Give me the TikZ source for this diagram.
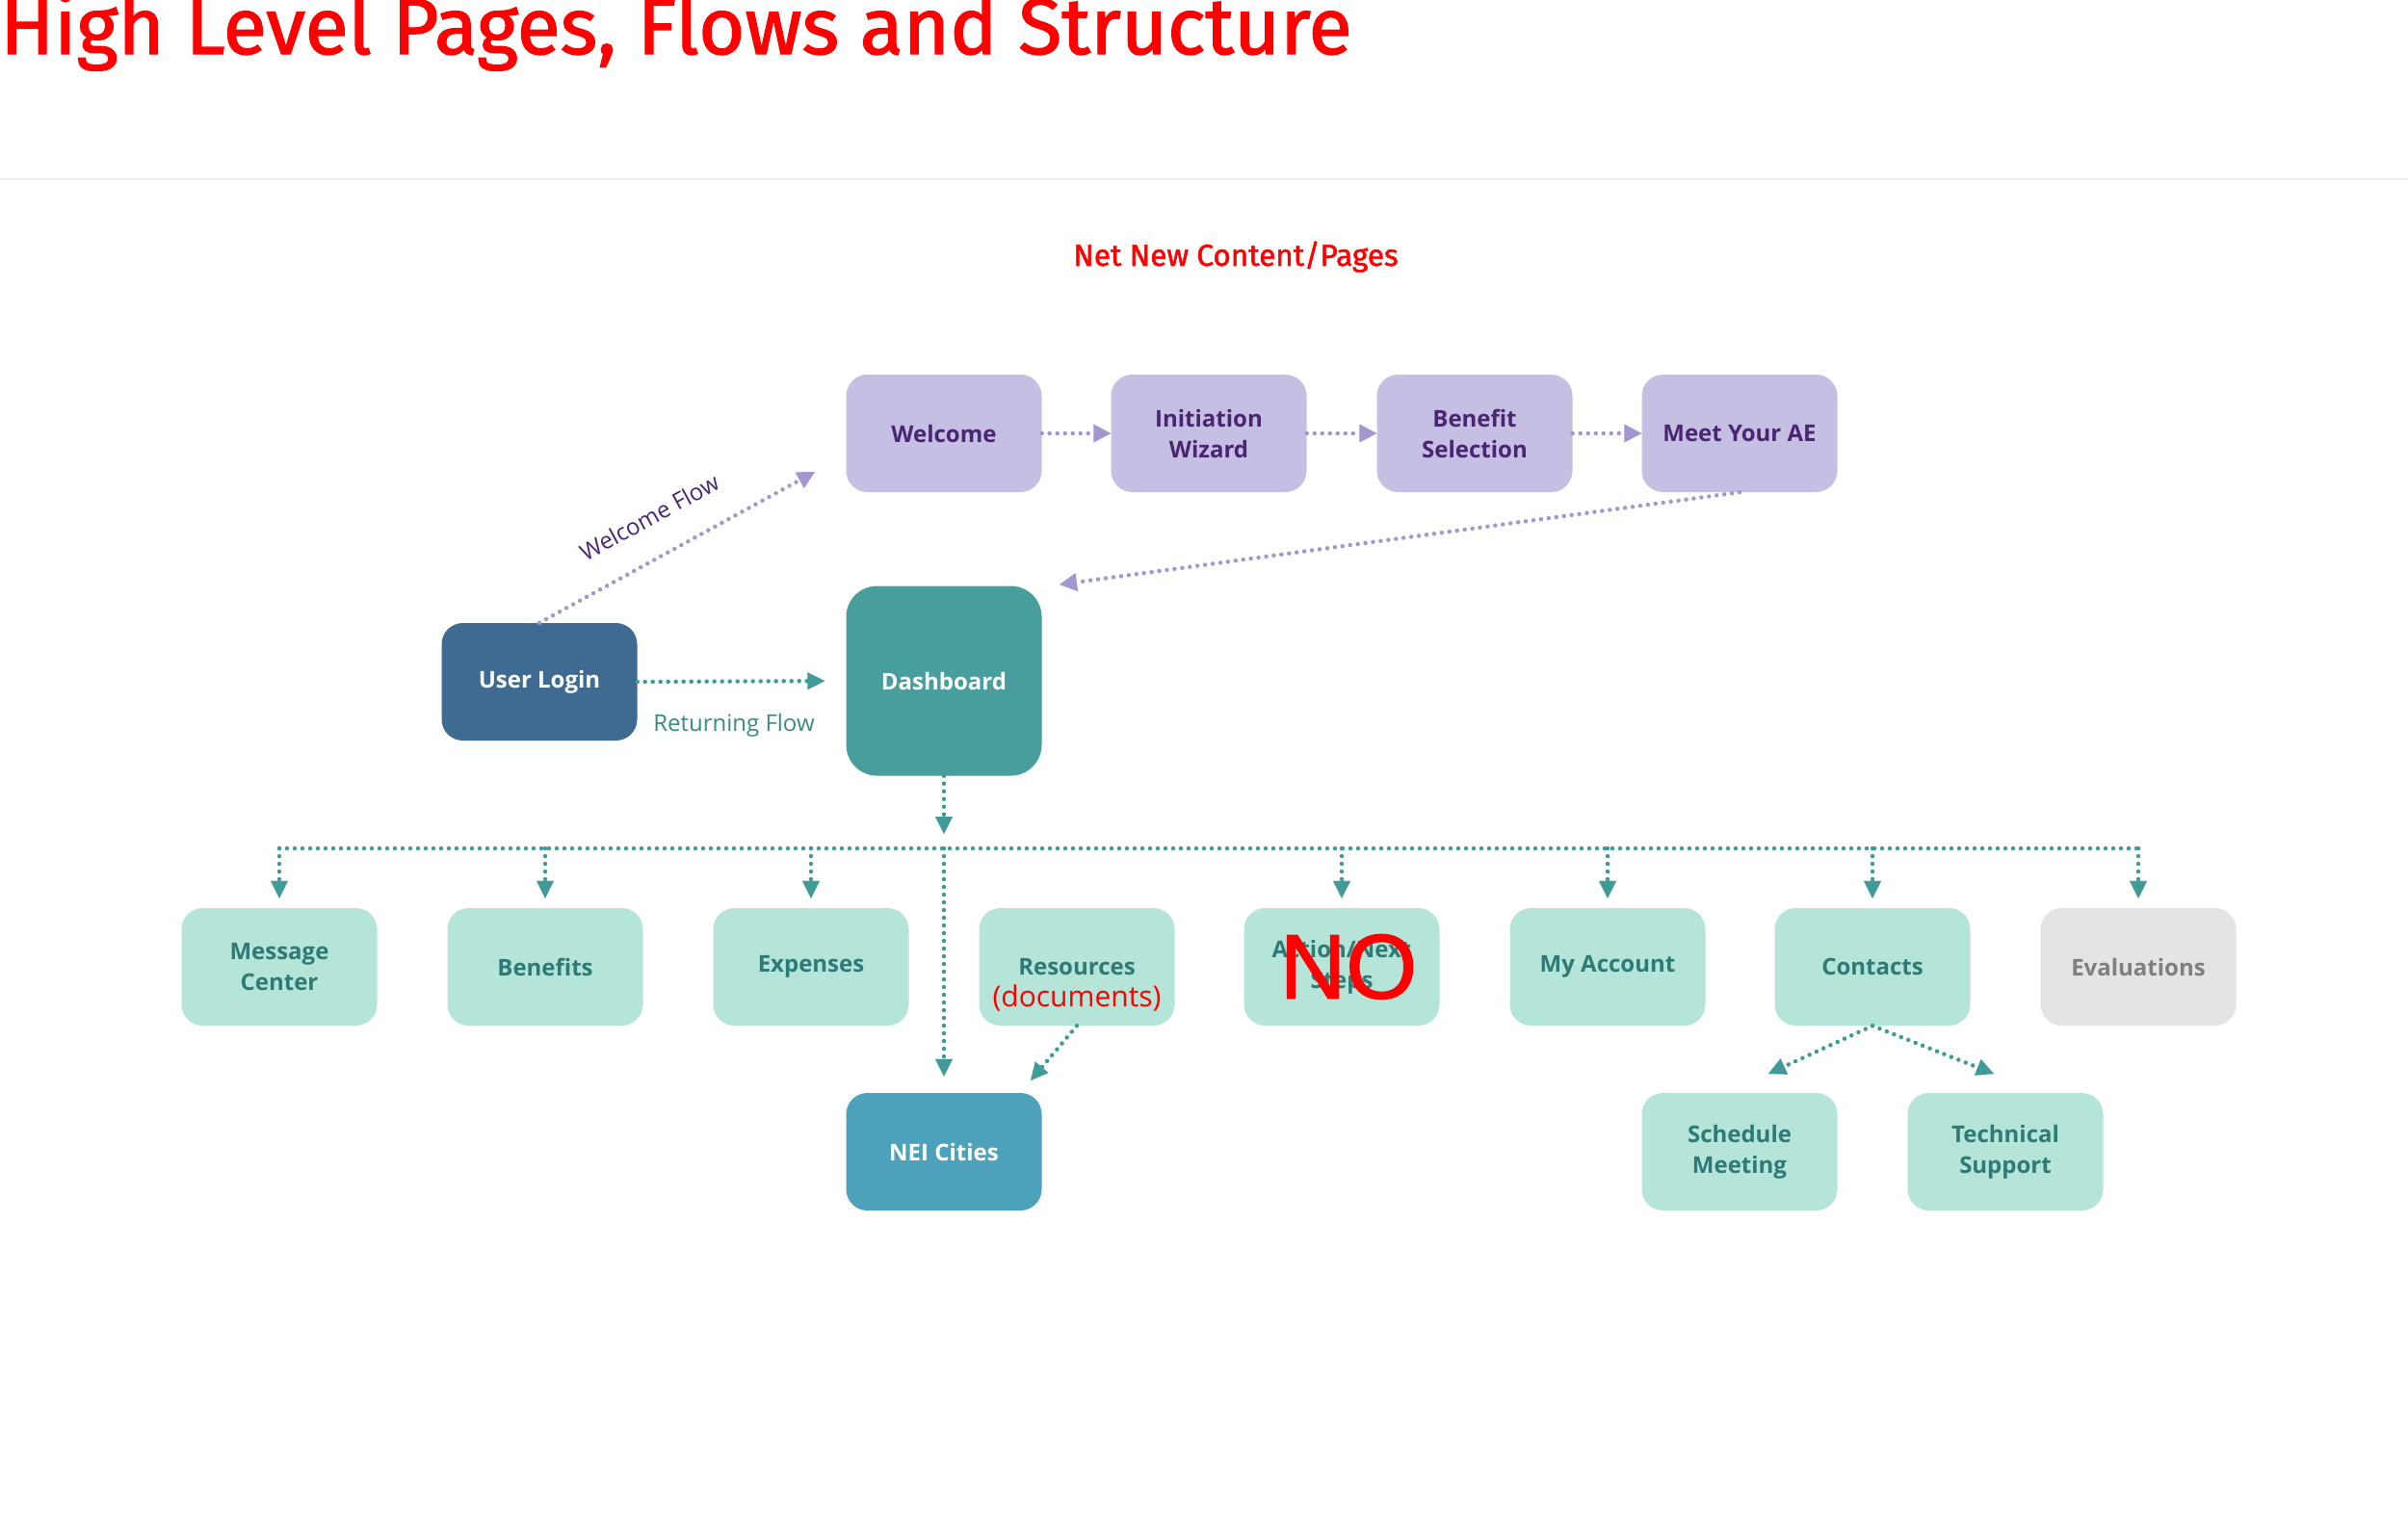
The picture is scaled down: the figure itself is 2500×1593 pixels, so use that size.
\documentclass[tikz,border=0pt]{standalone}
\usepackage{fontspec}
\setmainfont{Open Sans}
\newfontfamily\titlefont[FakeBold=1.6]{Fira Sans}
\newfontfamily\nofont[FakeBold=1.5]{Liberation Sans}
\usetikzlibrary{arrows.meta}
\definecolor{pfill}{HTML}{C5C0E3}
\definecolor{ptext}{HTML}{4A2672}
\definecolor{parrow}{HTML}{A497D0}
\definecolor{tarrow}{HTML}{3F9A98}
\definecolor{tfill}{HTML}{B5E4D8}
\definecolor{ttext}{HTML}{2D7A77}
\definecolor{dashfill}{HTML}{479E9D}
\definecolor{loginfill}{HTML}{3F6A92}
\definecolor{neifill}{HTML}{4DA1BB}
\definecolor{evalfill}{HTML}{E4E4E4}
\definecolor{evaltext}{HTML}{7F7F7F}
\definecolor{titlered}{HTML}{FF0000}
\definecolor{sepcol}{HTML}{EFEFEF}
\definecolor{retcol}{HTML}{3A8A85}
\begin{document}
\begin{tikzpicture}[x=1pt,y=-1pt,
  box/.style={rounded corners=22pt, minimum width=203pt, minimum height=122pt, inner sep=0pt, align=center, font=\fontsize{24}{32}\selectfont\bfseries},
  pbox/.style={box, fill=pfill, text=ptext},
  tbox/.style={box, fill=tfill, text=ttext},
  flowbase/.style={line width=4.5pt, line cap=round, dash pattern=on 0pt off 8pt},
  flowp/.style={flowbase, draw=parrow, -{Triangle[length=18pt,width=19pt,line width=0.1pt]}},
  flowt/.style={flowbase, draw=tarrow, -{Triangle[length=18pt,width=18pt,line width=0.1pt]}},
  bus/.style={flowbase, draw=tarrow}
]
\useasboundingbox (0,0) rectangle (2500,1593);
\fill[white] (0,0) rectangle (2500,1593);

% title
\node[anchor=base west, inner sep=0pt, text=titlered, font=\titlefont\fontsize{82.5}{82.5}\selectfont] (title) at (0,56) {High Level Pages, Flows and Structure};
\draw[sepcol, line width=2pt] (0,186) -- (2500,186);
\node[anchor=base, inner sep=0pt, text=titlered, font=\titlefont\fontsize{31.5}{31.5}\selectfont] (netnew) at (1283,276) {Net New Content/Pages};

% top row
\node[pbox] (welcome) at (980,450) {Welcome};
\node[pbox] (init) at (1255,450) {Initiation\\Wizard};
\node[pbox] (benefit) at (1531,450) {Benefit\\Selection};
\node[pbox] (meet) at (1806,450) {Meet Your AE};

% middle
\node[box, fill=loginfill, text=white] (login) at (560,708) {User Login};
\node[box, fill=dashfill, text=white, minimum height=197pt, rounded corners=32pt] (dash) at (980,707) {Dashboard};

% bottom row
\node[tbox] (msg) at (290,1004) {Message\\Center};
\node[tbox] (ben) at (566,1004) {Benefits};
\node[tbox] (exp) at (842,1004) {Expenses};
\node[tbox, label={[text=red, font=\fontsize{30}{32}\selectfont\mdseries, inner sep=0pt, yshift=-32pt]center:(documents)}] (res) at (1118,1004) {Resources};
\node[tbox, label={[text=red, font=\nofont\fontsize{95}{95}\selectfont\mdseries, inner sep=0pt, xshift=7pt]center:NO}] (act) at (1393,1004) {Action/Next\\Steps};
\node[tbox] (acct) at (1669,1004) {My Account};
\node[tbox] (cont) at (1944,1004) {Contacts};
\node[box, fill=evalfill, text=evaltext] (eval) at (2220,1004) {Evaluations};

% third row
\node[box, fill=neifill, text=white] (nei) at (980,1196) {NEI Cities};
\node[tbox] (sched) at (1806,1196) {Schedule\\Meeting};
\node[tbox] (tech) at (2082,1196) {Technical\\Support};

% free ends
\coordinate (wfend) at (846,490);
\coordinate (meetend) at (1100,607);
\coordinate (dashend) at (980,866);
\coordinate (busL) at (290,881);
\coordinate (busR) at (2220,881);
\coordinate (resend) at (1070,1122);
\coordinate (schend) at (1836,1115);
\coordinate (techend) at (2070,1115);

% purple flows
\draw[flowp] (welcome.east) -- (init.west);
\draw[flowp] (init.east) -- (benefit.west);
\draw[flowp] (benefit.east) -- (meet.west);
\draw[flowp] (login.north) -- (wfend);
\draw[flowp] (meet.south) -- (meetend);
\node[rotate=28.7, text=ptext, font=\fontsize{24}{24}\selectfont] (wflabel) at (674,537) {Welcome Flow};

% teal flows
\draw[flowt, shorten >=22pt] (login.east) -- (dash.west);
\node[text=retcol, font=\fontsize{24}{24}\selectfont] (retlabel) at (762,753) {Returning Flow};
\draw[flowt] (dash.south) -- (dashend);
\draw[bus] (busL) -- (busR);
\foreach \n in {msg,ben,exp,act,acct,cont,eval}
  \draw[flowt, shorten >=10pt] (\n.north |- busL) -- (\n.north);
\draw[flowt, shorten >=17pt] (nei.north |- busL) -- (nei.north);
\draw[flowt] (res.south) -- (resend);
\draw[flowt] (cont.south) -- (schend);
\draw[flowt] (cont.south) -- (techend);
\end{tikzpicture}
\end{document}
